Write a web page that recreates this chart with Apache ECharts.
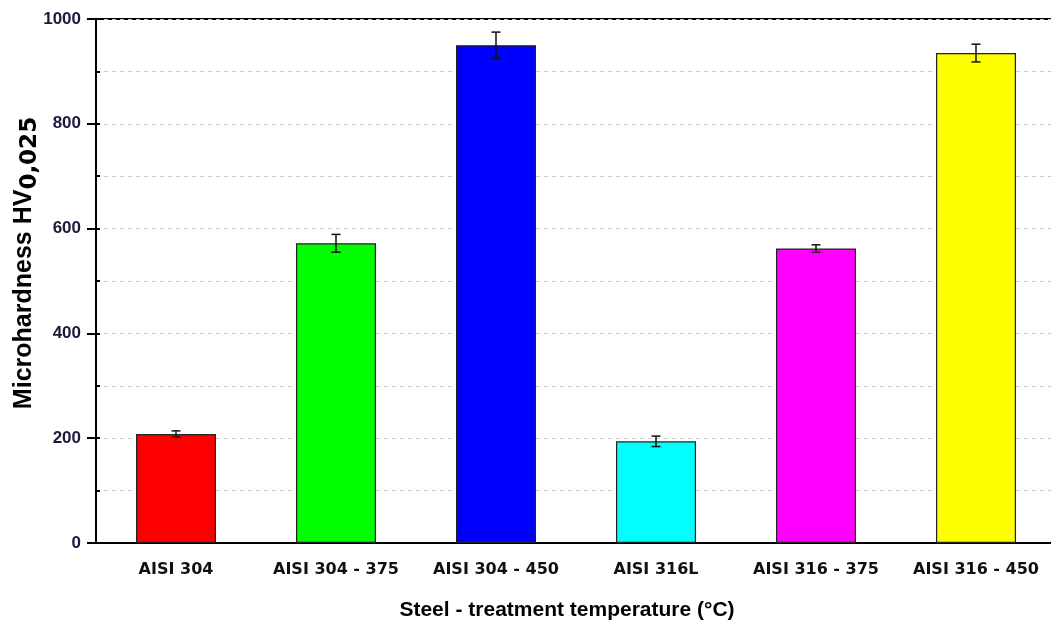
<!DOCTYPE html>
<html>
<head>
<meta charset="utf-8">
<title>Microhardness of treated steels</title>
<script src="https://cdn.jsdelivr.net/npm/echarts@6/dist/echarts.min.js"></script>
<style>
  html, body { margin: 0; padding: 0; background: #fff; overflow: hidden; }
  #chart { width: 1064px; height: 623px; }
</style>
</head>
<body>
<div id="chart"></div>
<script>
// Steel grade and treatment temperature
const categories = ['AISI 304', 'AISI 304 - 375', 'AISI 304 - 450', 'AISI 316L', 'AISI 316 - 375', 'AISI 316 - 450'];
// Mean microhardness HV0,025
const hardness = [208, 572, 950, 194, 562, 935];
// Standard deviation of each measurement
const deviation = [6, 17, 25, 10, 7, 17];
const barColors = ['#ff0000', '#00ff00', '#0000ff', '#00ffff', '#ff00ff', '#ffff00'];
const yTicks = [0, 200, 400, 600, 800, 1000];

const FONT = '"Liberation Sans", Arial, sans-serif';
const WIDE = '"DejaVu Sans", Verdana, sans-serif';
const chart = echarts.init(document.getElementById('chart'), null, { renderer: 'canvas' });

const errorData = hardness.map((v, i) => [i, v - deviation[i], v + deviation[i]]);

const gridDash = { color: '#c8c8c8', width: 1, type: [4, 4] };

chart.setOption({
  animation: false,
  grid: {
    left: 96, top: 19, bottom: 80, width: 960,
    outerBoundsMode: 'none',
    containLabel: false,
    show: true, borderColor: '#000', borderWidth: 2, backgroundColor: 'transparent'
  },
  xAxis: [
    {
      type: 'category',
      data: categories,
      axisLine: { lineStyle: { color: '#000', width: 2 } },
      axisTick: { alignWithLabel: true, interval: 0, length: 9, lineStyle: { color: '#000', width: 2 } },
      axisLabel: { interval: 0, color: '#111', fontFamily: WIDE, fontWeight: 'bold', fontSize: 16, margin: 19 },
      name: 'Steel - treatment temperature (°C)',
      nameLocation: 'middle',
      nameGap: 57,
      nameMoveOverlap: false,
      nameTextStyle: { color: '#000', fontFamily: FONT, fontWeight: 'bold', fontSize: 21, padding: [0, 18, 0, 0] }
    },
    {
      type: 'category',
      data: categories,
      position: 'bottom',
      axisLine: { show: false },
      axisTick: { alignWithLabel: false, interval: 0, length: 4, lineStyle: { color: '#000', width: 2 } },
      axisLabel: { show: false }
    }
  ],
  yAxis: [
    {
      type: 'value',
      min: 0, max: 1000, interval: 200,
      axisLine: { show: true, lineStyle: { color: '#000', width: 2 } },
      axisTick: { show: true, length: 9, lineStyle: { color: '#000', width: 2 } },
      axisLabel: {
        color: '#1a1a3a', fontFamily: FONT, fontWeight: 'bold', fontSize: 17, margin: 15,
        formatter: v => (yTicks.includes(v) ? String(v) : '')
      },
      splitLine: { show: true, lineStyle: gridDash },
      minorTick: { show: false, splitNumber: 2 },
      minorSplitLine: { show: true, lineStyle: gridDash },
      name: '{m|Microhardness HV}{s|0,025}',
      nameLocation: 'middle',
      nameGap: 54,
      nameMoveOverlap: false,
      nameRotate: 90,
      nameTextStyle: {
        rich: {
          m: { color: '#000', fontFamily: FONT, fontWeight: 'bold', fontSize: 25, lineHeight: 30, verticalAlign: 'top', padding: [0, 0, 0, 36] },
          s: { color: '#000', fontFamily: WIDE, fontWeight: 'bold', fontSize: 23, lineHeight: 26, verticalAlign: 'bottom', padding: [9, 0, 0, 0] }
        }
      }
    },
    {
      // inward minor ticks every 100
      type: 'value',
      position: 'left',
      min: 0, max: 1000, interval: 100,
      axisLine: { show: false },
      axisTick: { show: true, inside: true, length: 4, lineStyle: { color: '#000', width: 2 } },
      axisLabel: { show: false },
      splitLine: { show: false }
    }
  ],
  series: [
    {
      type: 'bar',
      data: hardness.map((v, i) => ({ value: v, itemStyle: { color: barColors[i] } })),
      barWidth: '50%',
      itemStyle: { borderColor: '#222', borderWidth: 1.2 },
      z: 2
    },
    {
      type: 'custom',
      data: errorData,
      z: 5,
      renderItem: function (params, api) {
        const x = api.value(0);
        const lo = api.coord([x, api.value(1)]);
        const hi = api.coord([x, api.value(2)]);
        const cap = 4.5;
        const style = { stroke: '#111', lineWidth: 1.5 };
        return {
          type: 'group',
          children: [
            { type: 'line', shape: { x1: lo[0], y1: lo[1], x2: hi[0], y2: hi[1] }, style },
            { type: 'line', shape: { x1: hi[0] - cap, y1: hi[1], x2: hi[0] + cap, y2: hi[1] }, style },
            { type: 'line', shape: { x1: lo[0] - cap, y1: lo[1], x2: lo[0] + cap, y2: lo[1] }, style }
          ]
        };
      }
    }
  ]
});
</script>
</body>
</html>
